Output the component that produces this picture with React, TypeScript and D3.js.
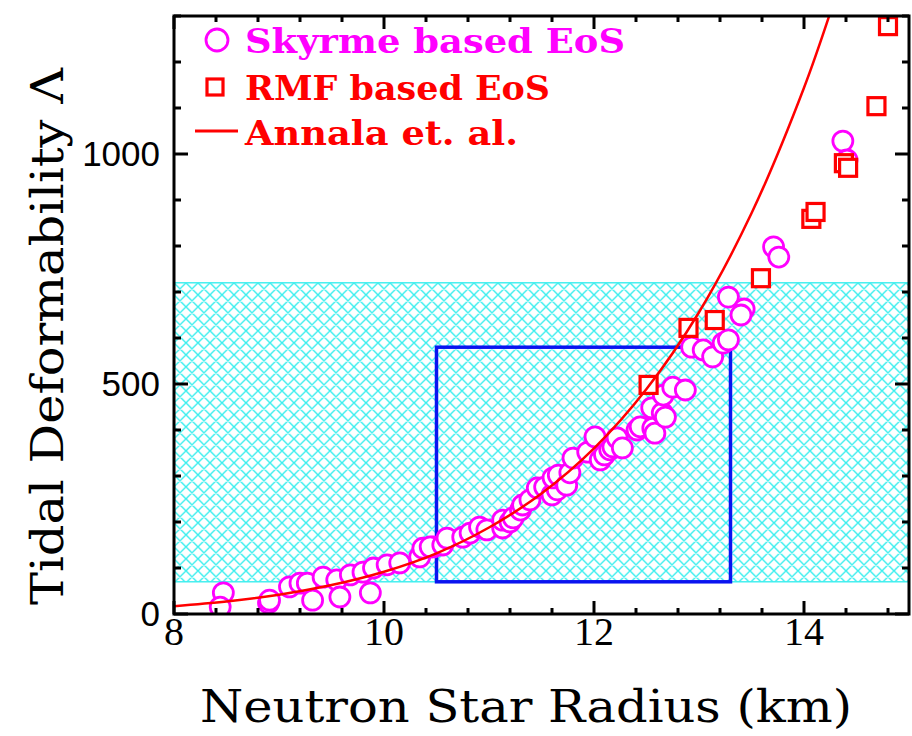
import React from "react";
import * as d3 from "d3";

// ---- Data ----
const skyrmeR = [
  8.47, 8.44, 8.90, 8.91, 9.10, 9.20, 9.27, 9.32, 9.42, 9.55, 9.58, 9.68, 9.80, 9.87, 9.90,
  10.03, 10.15, 10.34, 10.47, 10.37, 10.44, 10.56, 10.60, 10.75, 10.82, 10.91, 10.98, 11.13,
  11.13, 11.20, 11.23, 11.30, 11.32, 11.39, 11.46, 11.53, 11.60, 11.65, 11.61, 11.66, 11.74,
  11.77, 11.80, 11.94, 12.06, 12.10, 12.15, 12.01, 12.18, 12.22, 12.27, 12.41, 12.44, 12.56,
  12.58, 12.55, 12.65, 12.68, 12.66, 12.75, 12.87, 12.93, 13.04, 13.13, 13.23, 13.28, 13.28,
  13.43, 13.40, 13.71, 13.76, 14.37, 14.41,
];
const skyrmeL = [
  46, 15, 24, 30, 59, 67, 67, 30, 80, 74, 37, 85, 91, 46, 100,
  107, 111, 124, 146, 143, 146, 150, 165, 167, 176, 189, 183, 187,
  204, 200, 209, 226, 237, 248, 274, 276, 259, 270, 296, 302, 280,
  307, 339, 352, 335, 346, 357, 385, 363, 383, 361, 400, 407, 404,
  393, 448, 437, 428, 476, 493, 487, 580, 574, 559, 589, 596, 689,
  663, 650, 798, 776, 1028, 987,
];
const rmfR = [12.52, 12.90, 13.15, 13.59, 14.07, 14.11, 14.38, 14.42, 14.69, 14.80];
const rmfL = [498, 622, 639, 730, 859, 874, 980, 970, 1104, 1278];
const annalaR = [8, 8.5, 9, 9.5, 10, 10.5, 11, 11.5, 12, 12.5, 13, 13.5, 14, 14.3];
const annalaL = [17, 27, 42, 63, 92, 132, 188, 262, 360, 489, 656, 871, 1144, 1342];

const gwBand = [70, 720];
const boxR = [10.5, 13.3];
const boxL = [70, 580];

const xMajor = [8, 10, 12, 14];
const yMajor = [0, 500, 1000];
const legendLabels = ["Skyrme based EoS", "RMF based EoS", "Annala et. al."];

const W = 912, H = 736;
const L = 174, R = 909, T = 16, B = 614;

export default function App() {
  const x = d3.scaleLinear().domain([8, 15]).range([L, R]);
  const y = d3.scaleLinear().domain([0, 1300]).range([B, T]);

  const xMinor = d3.range(8, 15.001, 0.4).map((v) => +v.toFixed(2));
  const yMinor = d3.range(0, 1301, 100);

  const line = d3
    .line<number>()
    .x((_, i) => x(annalaR[i]))
    .y((_, i) => y(annalaL[i]))
    .curve(d3.curveCatmullRom);
  const pathD = line(annalaL) || "";

  const magenta = "#ff00ff";
  const red = "#ff0000";
  const cyan = "#3aeeee";
  const tickW = 3;

  return (
    <svg
      width={W}
      height={H}
      style={{ position: "absolute", left: 0, top: 0, background: "#fff" }}
    >
      <defs>
        <pattern id="hatch" width={12} height={12} patternUnits="userSpaceOnUse" x={L} y={y(gwBand[1])}>
          <path d="M0,0 L12,12 M12,0 L0,12 M-3,9 L3,15 M9,-3 L15,3 M-3,3 L3,-3 M9,15 L15,9" stroke={cyan} strokeWidth={1.4} />
        </pattern>
        <clipPath id="plotClip">
          <rect x={L} y={T} width={R - L} height={B - T} />
        </clipPath>
      </defs>

      {/* hatched GW band */}
      <rect
        x={L}
        y={y(gwBand[1])}
        width={R - L}
        height={y(gwBand[0]) - y(gwBand[1])}
        fill="url(#hatch)"
        stroke={cyan}
        strokeWidth={1.4}
      />

      {/* blue box */}
      <rect
        x={x(boxR[0])}
        y={y(boxL[1])}
        width={x(boxR[1]) - x(boxR[0])}
        height={y(boxL[0]) - y(boxL[1])}
        fill="none"
        stroke="#0a14f0"
        strokeWidth={3.5}
      />

      <g clipPath="url(#plotClip)">
        {skyrmeR.map((r, i) => (
          <circle key={"s" + i} cx={x(r)} cy={y(skyrmeL[i])} r={10} fill="#fff" stroke={magenta} strokeWidth={2.8} />
        ))}
        {rmfR.map((r, i) => (
          <rect key={"r" + i} x={x(r) - 8.5} y={y(rmfL[i]) - 8.5} width={17} height={17} fill="#fff" stroke={red} strokeWidth={3.2} />
        ))}
        <path d={pathD} fill="none" stroke={red} strokeWidth={2.5} />
      </g>

      {/* frame */}
      <rect x={L} y={T} width={R - L} height={B - T} fill="none" stroke="#000" strokeWidth={3} />

      {/* x ticks */}
      {xMinor.map((v, i) => {
        const major = xMajor.some((m) => Math.abs(m - v) < 1e-6);
        const len = major ? 13 : 6;
        return (
          <g key={"xt" + i}>
            <line x1={x(v)} x2={x(v)} y1={B} y2={B - len} stroke="#000" strokeWidth={tickW} />
            <line x1={x(v)} x2={x(v)} y1={T} y2={T + len} stroke="#000" strokeWidth={tickW} />
          </g>
        );
      })}
      {yMinor.map((v, i) => {
        const major = yMajor.includes(v);
        const len = major ? 14 : 7;
        return (
          <g key={"yt" + i}>
            <line x1={L} x2={L + len} y1={y(v)} y2={y(v)} stroke="#000" strokeWidth={tickW} />
            <line x1={R} x2={R - len} y1={y(v)} y2={y(v)} stroke="#000" strokeWidth={tickW} />
          </g>
        );
      })}

      {/* tick labels */}
      {xMajor.map((v) => (
        <text
          key={"xl" + v}
          x={x(v)}
          y={645}
          textAnchor="middle"
          fontFamily="'Liberation Serif', serif"
          fontSize={40}
          fill="#000"
        >
          {v}
        </text>
      ))}
      {yMajor.map((v) => (
        <text
          key={"yl" + v}
          x={160}
          y={y(v) + 12}
          textAnchor="end"
          fontFamily="'Liberation Sans', sans-serif"
          fontSize={35}
          fill="#000"
        >
          {v}
        </text>
      ))}

      {/* axis titles */}
      <text
        x={200}
        y={722}
        fontFamily="'DejaVu Serif', serif"
        fontSize={44}
        textLength={652}
        lengthAdjust="spacingAndGlyphs"
        fill="#000"
      >
        Neutron Star Radius (km)
      </text>
      <text
        transform="translate(63,605) rotate(-90)"
        fontFamily="'DejaVu Serif', serif"
        fontSize={44}
        textLength={537}
        lengthAdjust="spacingAndGlyphs"
        fill="#000"
      >
        Tidal Deformability Λ
      </text>

      {/* legend */}
      <circle cx={217} cy={40} r={11} fill="#fff" stroke={magenta} strokeWidth={2.8} />
      <rect x={207} y={79} width={16} height={16} fill="#fff" stroke={red} strokeWidth={3.2} />
      <line x1={195} x2={238} y1={131} y2={131} stroke={red} strokeWidth={2.8} />
      <text x={245} y={53} fontFamily="'DejaVu Serif', serif" fontWeight="bold" fontSize={33} fill={magenta} textLength={380} lengthAdjust="spacingAndGlyphs">
        {legendLabels[0]}
      </text>
      <text x={245} y={100} fontFamily="'DejaVu Serif', serif" fontWeight="bold" fontSize={33} fill={red} textLength={305} lengthAdjust="spacingAndGlyphs">
        {legendLabels[1]}
      </text>
      <text x={245} y={145} fontFamily="'DejaVu Serif', serif" fontWeight="bold" fontSize={33} fill={red} textLength={273} lengthAdjust="spacingAndGlyphs">
        {legendLabels[2]}
      </text>
    </svg>
  );
}
